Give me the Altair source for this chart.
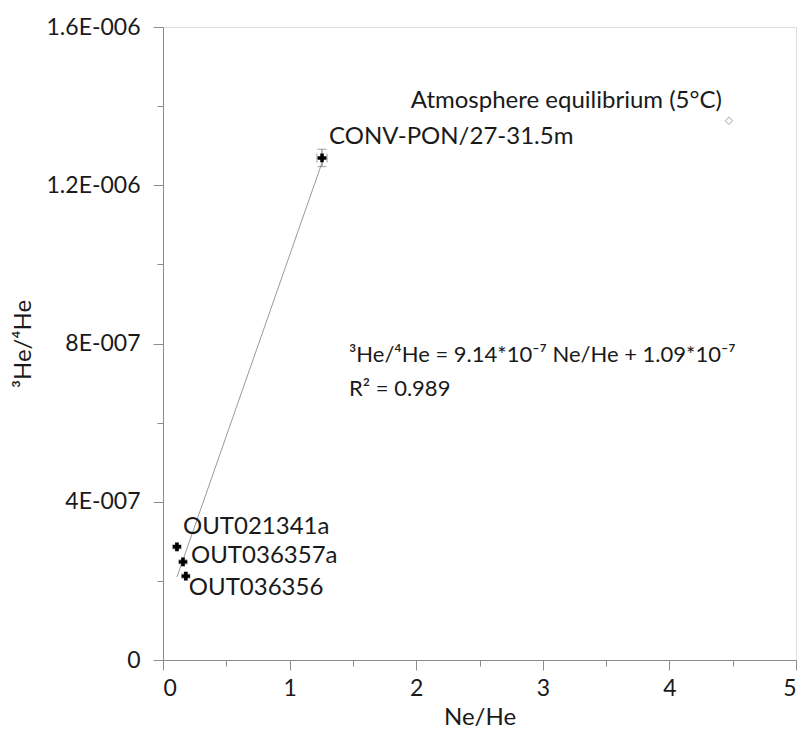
import altair as alt
import pandas as pd

# Sample points: Ne/He ratio, 3He/4He ratio and analytical uncertainties
sample_names = ["OUT021341a", "OUT036357a", "OUT036356", "CONV-PON/27-31.5m"]
ne_he = [0.11, 0.158, 0.18, 1.256]
he_ratio = [2.86e-7, 2.48e-7, 2.12e-7, 1.269e-6]
ne_he_err = [0.012, 0.012, 0.012, 0.04]
he_ratio_err = [5e-9, 5e-9, 5e-9, 2.2e-8]

# Air-saturated water end member
atm_name = ["Atmosphere equilibrium (5°C)"]
atm_ne_he = [4.47]
atm_he_ratio = [1.363e-6]

# Linear fit through the samples: 3He/4He = slope * Ne/He + intercept
slope = 9.14e-7
intercept = 1.09e-7
r_squared = 0.989

# Axis ticks
x_ticks = [0, 0.5, 1, 1.5, 2, 2.5, 3, 3.5, 4, 4.5, 5]
y_ticks = [0, 2e-7, 4e-7, 6e-7, 8e-7, 1e-6, 1.2e-6, 1.4e-6, 1.6e-6]
y_tick_labels = ["0", "4E-007", "8E-007", "1.2E-006", "1.6E-006"]

FONT = "Lato"
TEXT = "#1a1a1a"
GREY = "#8c8c8c"
LABEL_SIZE = 24
TICK_SIZE = 23
EQ_SIZE = 22

samples = pd.DataFrame({
    "name": sample_names, "x": ne_he, "y": he_ratio,
    "xerr": ne_he_err, "yerr": he_ratio_err,
})
samples["x_lo"] = samples["x"] - samples["xerr"]
samples["x_hi"] = samples["x"] + samples["xerr"]
samples["y_lo"] = samples["y"] - samples["yerr"]
samples["y_hi"] = samples["y"] + samples["yerr"]

atm = pd.DataFrame({"name": atm_name, "x": atm_ne_he, "y": atm_he_ratio})

fit_x = [min(ne_he), max(ne_he)]
fit = pd.DataFrame({"x": fit_x, "y": [slope * v + intercept for v in fit_x]})

label_js = "[" + ",".join(f"'{s}'" for s in y_tick_labels) + "]"

x_scale = alt.Scale(domain=[0, 5], nice=False, zero=False)
y_scale = alt.Scale(domain=[0, 1.6e-6], nice=False, zero=False)

x_axis = alt.Axis(
    values=x_ticks, title="Ne/He", grid=False,
    labelExpr="datum.value % 1 === 0 ? format(datum.value, 'd') : ''",
    labelFont=FONT, labelFontSize=TICK_SIZE, labelColor=TEXT, labelPadding=7,
    labelOverlap=False,
    titleFont=FONT, titleFontSize=LABEL_SIZE, titleFontWeight="normal",
    titleColor=TEXT, titlePadding=5,
    domainColor=GREY, tickColor=GREY,
    tickSize={"condition": {"test": "datum.value % 1 === 0", "value": 10}, "value": 6},
)
y_axis = alt.Axis(
    values=y_ticks, title="³He/⁴He", grid=False,
    labelExpr=f"round(datum.value / 2e-7) % 2 === 0 ? {label_js}[round(datum.value / 4e-7)] : ''",
    labelFont=FONT, labelFontSize=TICK_SIZE, labelColor=TEXT, labelPadding=13,
    labelOverlap=False,
    titleFont=FONT, titleFontSize=LABEL_SIZE, titleFontWeight="normal",
    titleColor=TEXT, titlePadding=11,
    domainColor=GREY, tickColor=GREY,
    tickSize={"condition": {"test": "round(datum.value / 2e-7) % 2 === 0", "value": 10}, "value": 6},
)

fit_line = alt.Chart(fit).mark_line(color="#9a9a9a", strokeWidth=1).encode(
    x=alt.X("x:Q", scale=x_scale, axis=x_axis),
    y=alt.Y("y:Q", scale=y_scale, axis=y_axis),
)

ERR = "#777777"
err_y = alt.Chart(samples).mark_rule(color=ERR, strokeWidth=1).encode(
    x="x:Q", y="y_lo:Q", y2="y_hi:Q")
err_x = alt.Chart(samples).mark_rule(color=ERR, strokeWidth=1).encode(
    y="y:Q", x="x_lo:Q", x2="x_hi:Q")
cap_top = alt.Chart(samples).mark_tick(color=ERR, orient="horizontal",
                                       size=9, thickness=1).encode(x="x:Q", y="y_hi:Q")
cap_bot = alt.Chart(samples).mark_tick(color=ERR, orient="horizontal",
                                       size=9, thickness=1).encode(x="x:Q", y="y_lo:Q")
cap_l = alt.Chart(samples).mark_tick(color=ERR, orient="vertical",
                                     size=9, thickness=1).encode(x="x_lo:Q", y="y:Q")
cap_r = alt.Chart(samples).mark_tick(color=ERR, orient="vertical",
                                     size=9, thickness=1).encode(x="x_hi:Q", y="y:Q")

pts = alt.Chart(samples).mark_point(shape="cross", filled=True, color="black",
                                    size=75, opacity=1).encode(x="x:Q", y="y:Q")

atm_pt = alt.Chart(atm).mark_point(shape="diamond", filled=False, color="#7a7a7a",
                                   size=55, strokeWidth=1).encode(x="x:Q", y="y:Q")


def sample_label(name, dx, dy):
    return alt.Chart(samples).transform_filter(
        alt.datum.name == name
    ).mark_text(align="left", baseline="middle", dx=dx, dy=dy, font=FONT,
                fontSize=LABEL_SIZE, color=TEXT).encode(x="x:Q", y="y:Q", text="name:N")


labels = [
    sample_label("OUT021341a", 6, -20),
    sample_label("OUT036357a", 8, -6),
    sample_label("OUT036356", 3, 12),
    sample_label("CONV-PON/27-31.5m", 7, -21),
]

atm_label = alt.Chart(atm).mark_text(
    align="right", baseline="middle", dx=-7, dy=-20, font=FONT,
    fontSize=LABEL_SIZE, color=TEXT
).encode(x="x:Q", y="y:Q", text="name:N")

eq_line = f"³He/⁴He = {slope * 1e7:.2f}*10⁻⁷ Ne/He + {intercept * 1e7:.2f}*10⁻⁷"
r2_line = f"R² = {r_squared}"

equation = alt.Chart(pd.DataFrame({"t": [eq_line]})).mark_text(
    align="left", baseline="middle", font=FONT, fontSize=EQ_SIZE, color=TEXT
).encode(x=alt.value(186), y=alt.value(328), text="t:N")
r2 = alt.Chart(pd.DataFrame({"t": [r2_line]})).mark_text(
    align="left", baseline="middle", font=FONT, fontSize=EQ_SIZE, color=TEXT
).encode(x=alt.value(186), y=alt.value(362), text="t:N")

chart = alt.layer(
    fit_line, err_y, err_x, cap_top, cap_bot, cap_l, cap_r, pts, atm_pt,
    *labels, atm_label, equation, r2,
).properties(
    width=633, height=633,
    autosize=alt.AutoSizeParams(type="none"),
    padding={"left": 163, "top": 27, "right": 9, "bottom": 87},
).configure_view(stroke=None).configure(background="white")

chart.save("out.html", embed_options={"renderer": "svg", "actions": False})
